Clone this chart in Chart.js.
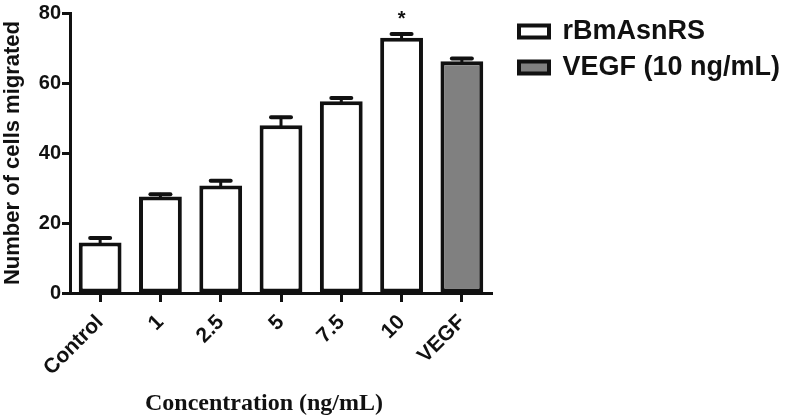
<!DOCTYPE html>
<html>
<head>
<meta charset="utf-8">
<script src="https://cdn.jsdelivr.net/npm/chart.js@4.4.1/dist/chart.umd.min.js"></script>
<style>
  body { margin: 0; background: #fff; }
  canvas { display: block; }
</style>
</head>
<body>
<canvas id="chart" width="789" height="419"></canvas>
<script>
// ================= DATA =================
const categories = ["Control", "1", "2.5", "5", "7.5", "10", "VEGF"];
const asnrsValues = [14.4, 27.6, 30.7, 47.9, 54.8, 72.9, null];
const asnrsErrors = [1.3, 0.6, 1.4, 2.3, 0.9, 1.1, null];
const vegfValues = [null, null, null, null, null, null, 66.2];
const vegfErrors = [null, null, null, null, null, null, 0.8];
const significance = ["", "", "", "", "", "*", ""];
const yTicks = [0, 20, 40, 60, 80];

const INK = "#111";
Chart.defaults.font.family = "'Liberation Sans', Arial, sans-serif";
Chart.defaults.color = INK;

// error bars (upper only) + significance marks
const errorBars = {
  id: "errorBars",
  afterDatasetsDraw(chart){
    const ctx = chart.ctx;
    const y = chart.scales.y;
    const errs = [asnrsErrors, vegfErrors];
    chart.data.datasets.forEach((ds, d) => {
      const meta = chart.getDatasetMeta(d);
      ds.data.forEach((v, i) => {
        if(v === null || errs[d][i] === null) return;
        const bar = meta.data[i];
        const top = y.getPixelForValue(v + errs[d][i]);
        ctx.save();
        ctx.strokeStyle = INK;
        ctx.lineCap = "round";
        ctx.lineWidth = 3;
        ctx.beginPath(); ctx.moveTo(bar.x, bar.y); ctx.lineTo(bar.x, top); ctx.stroke();
        ctx.lineWidth = 4;
        ctx.beginPath(); ctx.moveTo(bar.x - 10, top); ctx.lineTo(bar.x + 10, top); ctx.stroke();
        ctx.restore();
      });
    });
    // asterisks
    const meta0 = chart.getDatasetMeta(0);
    significance.forEach((s, i) => {
      if(!s) return;
      const bar = meta0.data[i];
      const top = y.getPixelForValue(asnrsValues[i] + asnrsErrors[i]);
      ctx.save();
      ctx.fillStyle = INK;
      ctx.font = "bold 20px 'Liberation Sans', Arial, sans-serif";
      ctx.textAlign = "center";
      ctx.textBaseline = "alphabetic";
      ctx.fillText(s, bar.x, top - 9);
      ctx.restore();
    });
  }
};

// the right legend is capped in width by the layout, so widen it and move it next to the plot
const legendShift = {
  id: "legendShift",
  afterLayout(chart){
    const lg = chart.legend;
    if(!lg) return;
    lg.left = chart.chartArea.right + 18;
    lg.right = chart.width;
    lg.width = lg.right - lg.left;
    lg.top -= 2; lg.bottom -= 2;
  }
};

// x axis title, drawn below the rotated labels
const xTitle = {
  id: "xTitle",
  afterDraw(chart){
    const ctx = chart.ctx;
    ctx.save();
    ctx.fillStyle = INK;
    ctx.font = "bold 24px 'Liberation Serif', 'Times New Roman', serif";
    ctx.textAlign = "center";
    ctx.textBaseline = "alphabetic";
    ctx.fillText("Concentration (ng/mL)", 264, 410);
    ctx.restore();
  }
};

new Chart(document.getElementById("chart"), {
  type: "bar",
  data: {
    labels: categories,
    datasets: [
      { label: "rBmAsnRS", data: asnrsValues, backgroundColor: "#ffffff" },
      { label: "VEGF (10 ng/mL)", data: vegfValues, backgroundColor: "#808080" }
    ]
  },
  options: {
    responsive: false,
    animation: false,
    layout: { padding: { top: 11, left: 0, right: 133, bottom: 0 } },
    datasets: {
      bar: {
        grouped: false,
        barPercentage: 0.71,
        categoryPercentage: 1,
        borderColor: INK,
        borderWidth: 4,
        borderSkipped: false
      }
    },
    plugins: {
      tooltip: { enabled: false },
      legend: {
        position: "right",
        align: "start",
        labels: {
          boxWidth: 30,
          boxHeight: 12,
          padding: 9,
          color: INK,
          font: { size: 27, weight: "bold" }
        }
      }
    },
    scales: {
      x: {
        afterFit: s => { s.height = 126; },
        grid: { display: true, drawOnChartArea: false, offset: false, tickLength: 9, tickWidth: 3, tickColor: INK },
        border: { display: true, width: 3, color: INK },
        ticks: { minRotation: 45, maxRotation: 45, padding: 8, font: { size: 21, weight: "bold" }, color: INK }
      },
      y: {
        min: 0,
        max: 80,
        afterFit: s => { s.width = 70; },
        afterBuildTicks: s => { s.ticks = yTicks.map(v => ({ value: v })); },
        grid: { display: true, drawOnChartArea: false, tickLength: 8, tickWidth: 3, tickColor: INK },
        border: { display: true, width: 3, color: INK },
        ticks: { padding: 1, font: { size: 20, weight: "bold" }, color: INK },
        title: { display: true, text: "Number of cells migrated", padding: { top: 0, bottom: 1 }, font: { size: 22, weight: "bold" }, color: INK }
      }
    }
  },
  plugins: [errorBars, legendShift, xTitle]
});
</script>
</body>
</html>
